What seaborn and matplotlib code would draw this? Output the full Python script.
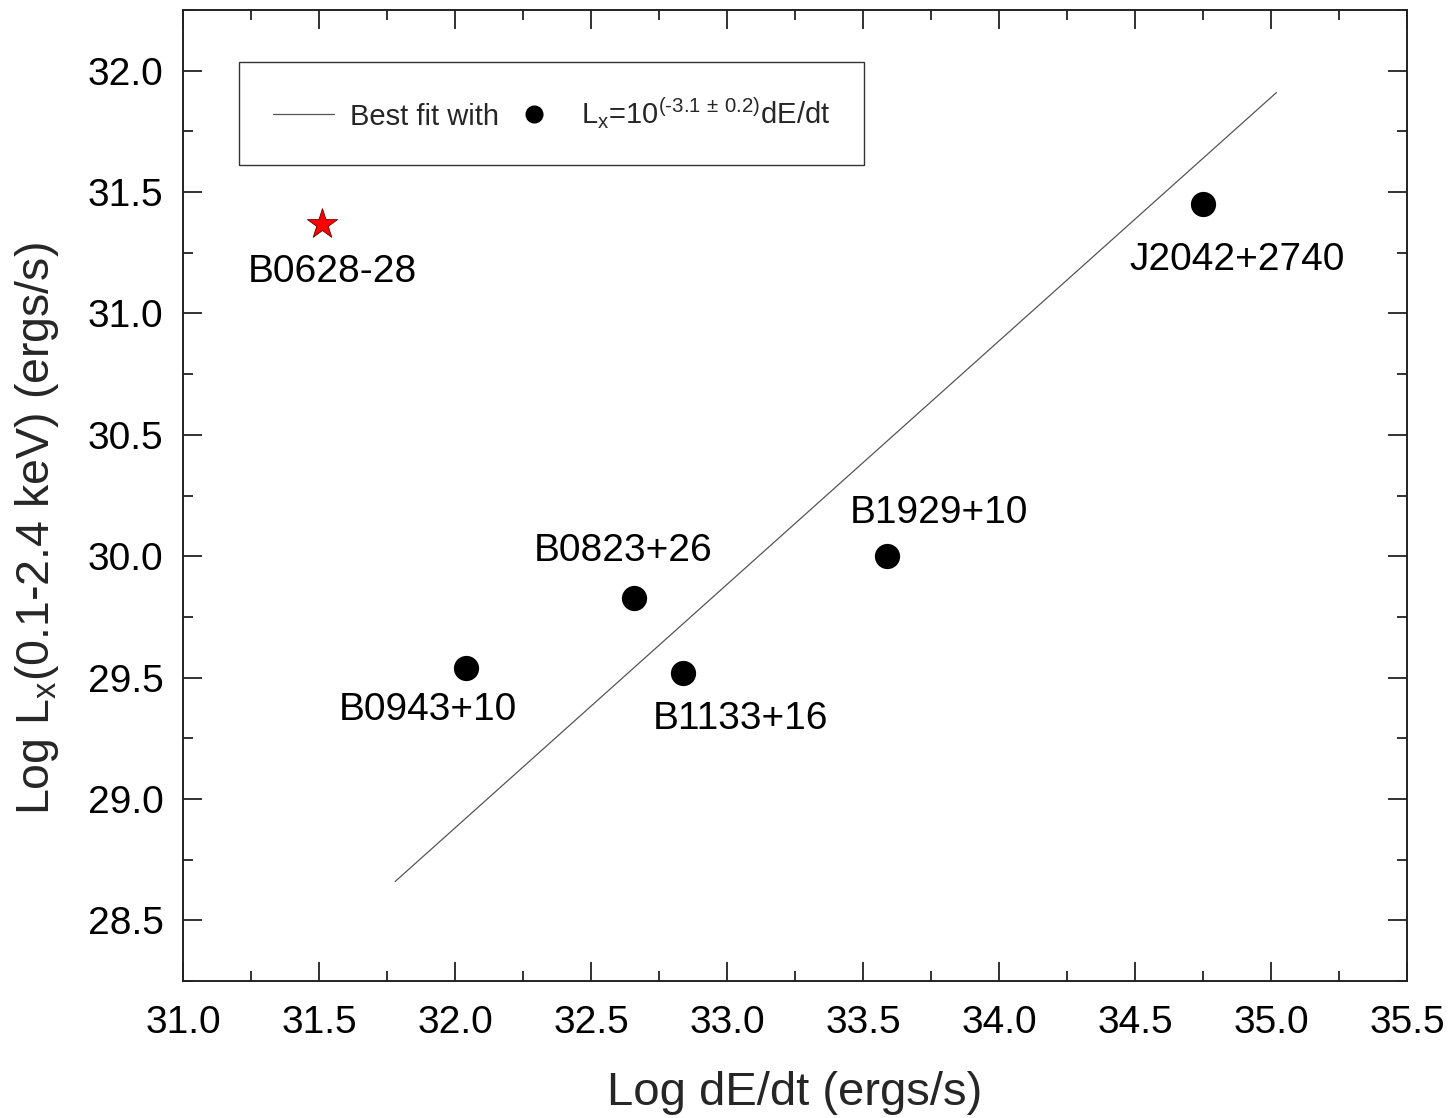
import matplotlib
matplotlib.use("Agg")
import matplotlib.pyplot as plt
import seaborn as sns
import pandas as pd
from matplotlib.lines import Line2D

# ---- data ----
pulsar_names = ["B0943+10", "B0823+26", "B1133+16", "B1929+10", "J2042+2740"]
pulsar_edot = [32.04, 32.66, 32.84, 33.59, 34.75]
pulsar_lx = [29.54, 29.83, 29.52, 30.00, 31.45]

star_name = "B0628-28"
star_edot = [31.51]
star_lx = [31.37]

fit_edot = [31.78, 35.02]
fit_lx = [28.66, 31.91]

# label positions (data coords)
label_x = [31.90, 32.62, 33.05, 33.78, 34.875]
label_y = [29.365, 30.02, 29.33, 30.18, 31.22]
star_label_xy = (31.55, 31.17)

x_ticks = [31.0, 31.5, 32.0, 32.5, 33.0, 33.5, 34.0, 34.5, 35.0, 35.5]
y_ticks = [28.5, 29.0, 29.5, 30.0, 30.5, 31.0, 31.5, 32.0]

sns.set_theme(style="ticks")
plt.rcParams['font.family'] = ['Liberation Sans', 'DejaVu Sans']
plt.rcParams['mathtext.default'] = 'regular'

fig = plt.figure(figsize=(14.5, 11.18), dpi=100)
ax = fig.add_axes([0.1262, 0.1225, 0.8441, 0.8685])

df = pd.DataFrame({"edot": pulsar_edot, "lx": pulsar_lx, "name": pulsar_names})
fit_df = pd.DataFrame({"edot": fit_edot, "lx": fit_lx})
star_df = pd.DataFrame({"edot": star_edot, "lx": star_lx})

sns.lineplot(data=fit_df, x="edot", y="lx", ax=ax, color="#555555", linewidth=0.9)
sns.scatterplot(data=df, x="edot", y="lx", ax=ax, color="black", s=330,
                edgecolor="black", linewidth=0)
sns.scatterplot(data=star_df, x="edot", y="lx", ax=ax, color="red", marker="*",
                s=520, edgecolor="#660000", linewidth=0.6)

for nm, lx_, ly_ in zip(pulsar_names, label_x, label_y):
    ax.text(lx_, ly_, nm, ha="center", va="center", fontsize=28, color="black")
ax.text(star_label_xy[0], star_label_xy[1], star_name, ha="center", va="center",
        fontsize=28, color="black")

ax.set_xlim(31.0, 35.5)
ax.set_ylim(28.25, 32.25)
ax.set_xticks(x_ticks)
ax.set_yticks(y_ticks)
ax.set_xticklabels([f"{v:.1f}" for v in x_ticks])
ax.set_yticklabels([f"{v:.1f}" for v in y_ticks])
ax.xaxis.set_minor_locator(matplotlib.ticker.MultipleLocator(0.25))
ax.yaxis.set_minor_locator(matplotlib.ticker.MultipleLocator(0.25))
ax.tick_params(which="major", direction="in", length=14, width=1.3,
               top=True, right=True, labelsize=28, colors="#222222",
               labelcolor="black", pad=14)
ax.tick_params(axis="x", which="major", pad=17)
ax.tick_params(which="minor", direction="in", length=7, width=1.3,
               top=True, right=True, colors="#222222")
for sp in ax.spines.values():
    sp.set_linewidth(1.4)
    sp.set_color("#222222")

ax.set_xlabel("Log dE/dt (ergs/s)", fontsize=34, labelpad=22)
ax.set_ylabel("Log L$_\\mathregular{x}$(0.1-2.4 keV) (ergs/s)", fontsize=33.5)
ax.yaxis.set_label_coords(-0.1, 0.466)

handles = [Line2D([0], [0], color="#555555", linewidth=0.9),
           Line2D([0], [0], color="black", marker="o", linestyle="none", markersize=12)]
labels = ["Best fit with",
          "L$_\\mathregular{x}$=10$^\\mathregular{(\u20103.1\\ \u00b1\\ 0.2)}$dE/dt"]
leg = ax.legend(handles, labels, ncol=2, loc="upper left",
                bbox_to_anchor=(0.046, 0.946), fontsize=21, frameon=True,
                fancybox=False, edgecolor="#333333", framealpha=1,
                borderpad=1.15, handlelength=2.1, handletextpad=0.55,
                columnspacing=0.15, borderaxespad=0)
leg.get_frame().set_linewidth(1.0)

fig.savefig("out.png", dpi=100)
